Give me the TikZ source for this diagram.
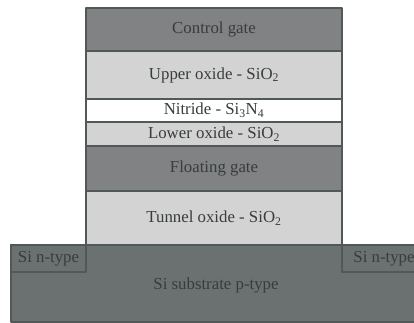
\documentclass[tikz,border=0pt]{standalone}
\usepackage{fontspec}
\setmainfont{Liberation Serif}
\definecolor{gatecol}{HTML}{808284}
\definecolor{oxidecol}{HTML}{D3D3D3}
\definecolor{subcol}{HTML}{6B7070}
\definecolor{edgecol}{HTML}{505858}
\definecolor{txtcol}{HTML}{383C3C}
\begin{document}
\begin{tikzpicture}[line join=round,x=10pt,y=10pt,font=\fontsize{16.8}{19}\selectfont,
		layer/.style={draw=edgecol,line width=1.5pt},
		lbl/.style={text=txtcol,inner sep=0pt}]
			\useasboundingbox (0,0) rectangle (41.4,32.3);
			\clip (0,0) rectangle (41.4,32.3);
			% substrate and the two n-type wells
			\filldraw[layer,fill=subcol] (1.1,0.1) rectangle (43,7.8);
			\filldraw[layer,fill=subcol] (1.1,5.1) rectangle (8.6,7.8);
			\filldraw[layer,fill=subcol] (34.2,5.1) rectangle (42.6,7.8);
			% gate stack
			\filldraw[layer,fill=gatecol] (8.6,27.2) rectangle (34.2,31.5);
			\filldraw[layer,fill=oxidecol] (8.6,22.4) rectangle (34.2,27.2);
			\filldraw[layer,fill=white] (8.6,20.1) rectangle (34.2,22.4);
			\filldraw[layer,fill=oxidecol] (8.6,17.7) rectangle (34.2,20.1);
			\filldraw[layer,fill=gatecol] (8.6,13.2) rectangle (34.2,17.7);
			\filldraw[layer,fill=oxidecol] (8.6,7.8) rectangle (34.2,13.2);
			\path 
			(21.4,29.35) node[lbl] (cg) {Control gate}
			(21.4,24.8) node[lbl] (uox) {Upper oxide - SiO\textsubscript{2}}
			(21.4,21.25) node[lbl] (nit) {Nitride - Si\textsubscript{3}N\textsubscript{4}}
			(21.4,18.9) node[lbl] (lox) {Lower oxide - SiO\textsubscript{2}}
			(21.4,15.45) node[lbl] (fg) {Floating gate}
			(21.4,10.5) node[lbl] (tox) {Tunnel oxide - SiO\textsubscript{2}}
			(4.85,6.45) node[lbl] (nl) {Si n-type}
			(38.4,6.45) node[lbl] (nr) {Si n-type}
			(21.6,3.8) node[lbl] (sub) {Si substrate p-type};
	\end{tikzpicture}
\end{document}
